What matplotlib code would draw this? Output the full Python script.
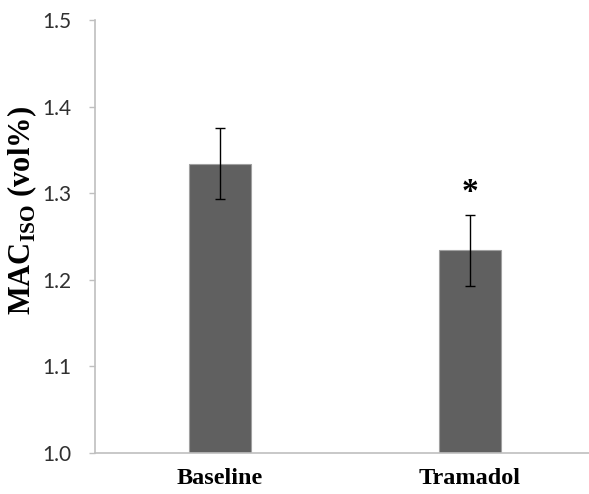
import matplotlib
matplotlib.use("Agg")
import matplotlib.pyplot as plt

plt.rcParams["mathtext.fontset"] = "custom"
plt.rcParams["mathtext.rm"] = "Liberation Serif:bold"
plt.rcParams["mathtext.bf"] = "Liberation Serif:bold"

categories = ["Baseline", "Tramadol"]
means = [1.334, 1.234]
errors = [0.041, 0.041]
significance = ["", "*"]

fig = plt.figure(figsize=(5.89, 4.94), dpi=100)
ax = fig.add_axes([95 / 589, 41 / 494, 500 / 589, 433 / 494])

x = list(range(len(categories)))
ax.bar(x, means, width=0.248, color="#606060", edgecolor="#a0a0a0", linewidth=0.8, zorder=2)
ax.errorbar(x, means, yerr=errors, fmt="none", ecolor="black", elinewidth=1.0,
            capsize=3.3, capthick=1.0, zorder=3)

for xi, m, e, s in zip(x, means, errors, significance):
    if s:
        ax.text(xi, m + e + 0.008, s, ha="center", va="bottom", fontsize=24,
                fontweight="bold", family="Liberation Serif")

ax.set_xlim(-0.5, 1.5)
ax.set_ylim(1.0, 1.5)
ax.set_yticks([1.0, 1.1, 1.2, 1.3, 1.4, 1.5])
ax.set_yticklabels(["1.0", "1.1", "1.2", "1.3", "1.4", "1.5"], family="Lato",
                   fontsize=15, color="#303030")
ax.set_xticks(x)
ax.set_xticklabels(categories, family="Liberation Serif", fontsize=17.5, fontweight="bold")

ax.tick_params(axis="y", direction="out", length=4, width=1, color="#bfbfbf", pad=13)
ax.tick_params(axis="x", length=0, pad=11)
for side in ["top", "right"]:
    ax.spines[side].set_visible(False)
for side in ["left", "bottom"]:
    ax.spines[side].set_color("#bfbfbf")
    ax.spines[side].set_linewidth(1.2)

ax.set_ylabel(r"MAC$_{\mathrm{ISO}}$ (vol%)", family="Liberation Serif", fontsize=22,
              fontweight="bold")
ax.yaxis.set_label_coords(-0.112, 0.56)

fig.savefig("out.png", dpi=100)
